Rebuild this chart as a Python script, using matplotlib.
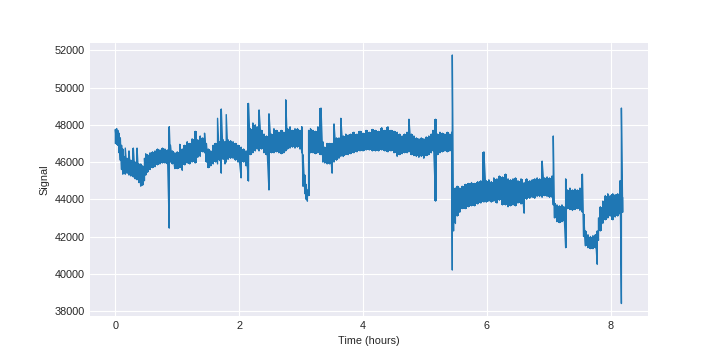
import matplotlib
matplotlib.use("Agg")
import matplotlib.pyplot as plt
import numpy as np

# envelope of the signal: time (h), low, high
hours = [
    0.00, 0.02, 0.04, 0.06, 0.08, 0.10, 0.12, 0.14, 0.16, 0.19, 0.22, 0.25, 0.29,
    0.32, 0.35, 0.38, 0.41, 0.44, 0.47, 0.49, 0.52, 0.56, 0.60, 0.64, 0.68, 0.72,
    0.76, 0.80, 0.84, 0.87, 0.89, 0.92, 0.96, 1.00, 1.04, 1.08, 1.12, 1.16, 1.20,
    1.24, 1.29, 1.33, 1.37, 1.41, 1.44, 1.47, 1.50, 1.54, 1.58, 1.62, 1.65, 1.68,
    1.71, 1.74, 1.77, 1.79, 1.82, 1.86, 1.90, 1.94, 1.98, 2.03, 2.07, 2.11, 2.15,
    2.18, 2.22, 2.26, 2.29, 2.32, 2.36, 2.40, 2.44, 2.48, 2.52, 2.56, 2.60, 2.64,
    2.68, 2.72, 2.75, 2.78, 2.82, 2.86, 2.90, 2.94, 2.98, 3.01, 3.03, 3.06, 3.08,
    3.10, 3.12, 3.15, 3.19, 3.23, 3.27, 3.32, 3.35, 3.38, 3.42, 3.46, 3.50, 3.53,
    3.57, 3.61, 3.64, 3.68, 3.72, 3.76, 3.80, 3.85, 3.90, 3.95, 4.00, 4.05, 4.10,
    4.15, 4.20, 4.25, 4.30, 4.35, 4.40, 4.45, 4.50, 4.55, 4.59, 4.63, 4.67, 4.71,
    4.74, 4.78, 4.82, 4.86, 4.90, 4.94, 4.98, 5.02, 5.06, 5.10, 5.13, 5.17, 5.20,
    5.24, 5.28, 5.32, 5.36, 5.40, 5.43, 5.44, 5.46, 5.49, 5.52, 5.56, 5.60, 5.65,
    5.70, 5.75, 5.80, 5.85, 5.90, 5.95, 5.99, 6.03, 6.07, 6.11, 6.16, 6.20, 6.25,
    6.30, 6.34, 6.38, 6.42, 6.46, 6.50, 6.55, 6.60, 6.64, 6.69, 6.73, 6.77, 6.81,
    6.85, 6.89, 6.93, 6.97, 7.01, 7.05, 7.07, 7.09, 7.13, 7.17, 7.21, 7.24, 7.27,
    7.30, 7.34, 7.38, 7.42, 7.46, 7.50, 7.54, 7.56, 7.59, 7.63, 7.67, 7.71, 7.75,
    7.78, 7.80, 7.83, 7.87, 7.91, 7.95, 7.99, 8.03, 8.07, 8.11, 8.15, 8.17, 8.19,
]
low = [
    47000, 46950, 46900, 46500, 46100, 45600, 45350, 45400, 45350, 45400, 45300, 45250, 45200,
    45100, 45050, 44900, 44700, 44750, 45000, 45300, 45450, 45600, 45700, 45750, 45850, 45900,
    45950, 45950, 45900, 42450, 46000, 45900, 45650, 45650, 45700, 45550, 45850, 45950, 45900,
    46000, 45950, 46250, 46300, 46550, 46500, 46000, 45700, 45800, 45900, 46000, 45900, 46100,
    45400, 46150, 45900, 46000, 46150, 46200, 46200, 46100, 46000, 45150, 46000, 45800, 44980,
    46400, 46500, 46600, 46700, 46600, 46700, 46500, 46400, 44500, 46500, 46500, 46550, 46500,
    46450, 46500, 46600, 46700, 46750, 46800, 46750, 46800, 46700, 46500, 44700, 44300, 44000,
    43900, 44200, 46500, 46500, 46450, 46500, 46400, 46000, 45950, 45900, 45900, 45400, 46000,
    46100, 46200, 46300, 46300, 46400, 46400, 46450, 46500, 46550, 46600, 46600, 46650, 46650,
    46600, 46600, 46600, 46650, 46600, 46550, 46600, 46500, 46300, 46400, 46450, 46500, 46500,
    46550, 46400, 46350, 46300, 46250, 46300, 46200, 46350, 46400, 46500, 46600, 43900, 46400,
    46500, 46550, 46600, 46550, 46600, 46650, 40200, 42300, 42700, 43100, 43300, 43500, 43500,
    43600, 43650, 43650, 43750, 43800, 43850, 43850, 43900, 43850, 43900, 43800, 43950, 43700,
    43700, 43600, 43650, 43700, 43650, 43800, 43750, 43250, 44000, 44050, 44100, 44050, 44150,
    44150, 44100, 44200, 44150, 44100, 44100, 43700, 43000, 42800, 42750, 42800, 42850, 41400,
    43500, 43450, 43400, 43450, 43500, 43400, 43300, 42000, 41500, 41400, 41350, 41350, 41400,
    40500, 41800, 42300, 42700, 42900, 43000, 43100, 42900, 43050, 43100, 43200, 38400, 43300,
]
high = [
    47750, 47800, 47700, 47550, 47300, 46900, 46700, 46300, 46750, 46200, 46600, 46100, 46750,
    46000, 46750, 45900, 45900, 45800, 46200, 46450, 46400, 46500, 46550, 46600, 46700, 46650,
    46750, 46700, 46650, 47900, 46900, 46600, 46500, 46550, 46950, 46700, 46900, 47100, 47000,
    47250, 47650, 47200, 47400, 47300, 47550, 47000, 46700, 46600, 46900, 47000, 48350, 47100,
    48850, 47200, 47100, 48550, 47200, 47150, 47100, 47000, 46900, 46800, 46700, 46600, 49150,
    47800, 48100, 48000, 47900, 48800, 47700, 47500, 47400, 48600, 47500, 47800, 47700, 47600,
    47700, 47600, 49350, 47800, 47900, 47700, 47800, 47800, 47700, 47900, 46400, 45300, 44800,
    44500, 47700, 47800, 47700, 47650, 47900, 48900, 47100, 46800, 47000, 47000, 47000, 48050,
    47300, 47300, 48350, 47400, 47500, 47450, 47500, 47600, 47500, 47650, 47550, 47700, 47600,
    47750, 47700, 47650, 47850, 47700, 47900, 47700, 47650, 47600, 47500, 47400, 47500, 47600,
    48300, 47500, 47400, 47300, 47250, 47300, 47250, 47350, 47400, 47500, 47700, 48300, 47500,
    47600, 47550, 47500, 47600, 47500, 47600, 51750, 44600, 44600, 44700, 44600, 44700, 44800,
    44850, 44900, 44850, 44950, 45000, 46550, 45000, 45050, 44950, 45150, 45100, 45250, 45200,
    45350, 45100, 45050, 45100, 45150, 45000, 45100, 44900, 45100, 45000, 45050, 45100, 45150,
    45100, 46050, 45150, 45200, 45150, 45250, 47400, 43800, 43700, 43650, 43700, 43600, 45100,
    44500, 44600, 44500, 44550, 44500, 44600, 45350, 43200, 42300, 42100, 42000, 42050, 42100,
    42300, 43000, 43600, 43900, 44200, 44300, 44200, 44300, 44250, 44300, 45000, 48900, 44100,
]

BLUE = "#1f77b4"

plt.style.use("seaborn-v0_8-darkgrid")
plt.rcParams["font.family"] = ["Liberation Sans", "DejaVu Sans"]
plt.rcParams["font.size"] = 7.8

fig, ax = plt.subplots(figsize=(7.2, 3.55), dpi=100)

# dense noisy trace: filled envelope plus a thin zig-zag between low and high
ax.fill_between(hours, low, high, step="mid", color=BLUE, lw=0)
t = np.repeat(hours, 2)
signal = np.column_stack([low, high]).ravel()
ax.plot(t, signal, color=BLUE, lw=1.0)

ax.set_xlabel("Time (hours)")
ax.set_ylabel("Signal")
ax.set_yticks(np.arange(38000, 52001, 2000))
ax.tick_params(labelsize=7.8, colors="#262626")

fig.savefig("out.png", dpi=100)
